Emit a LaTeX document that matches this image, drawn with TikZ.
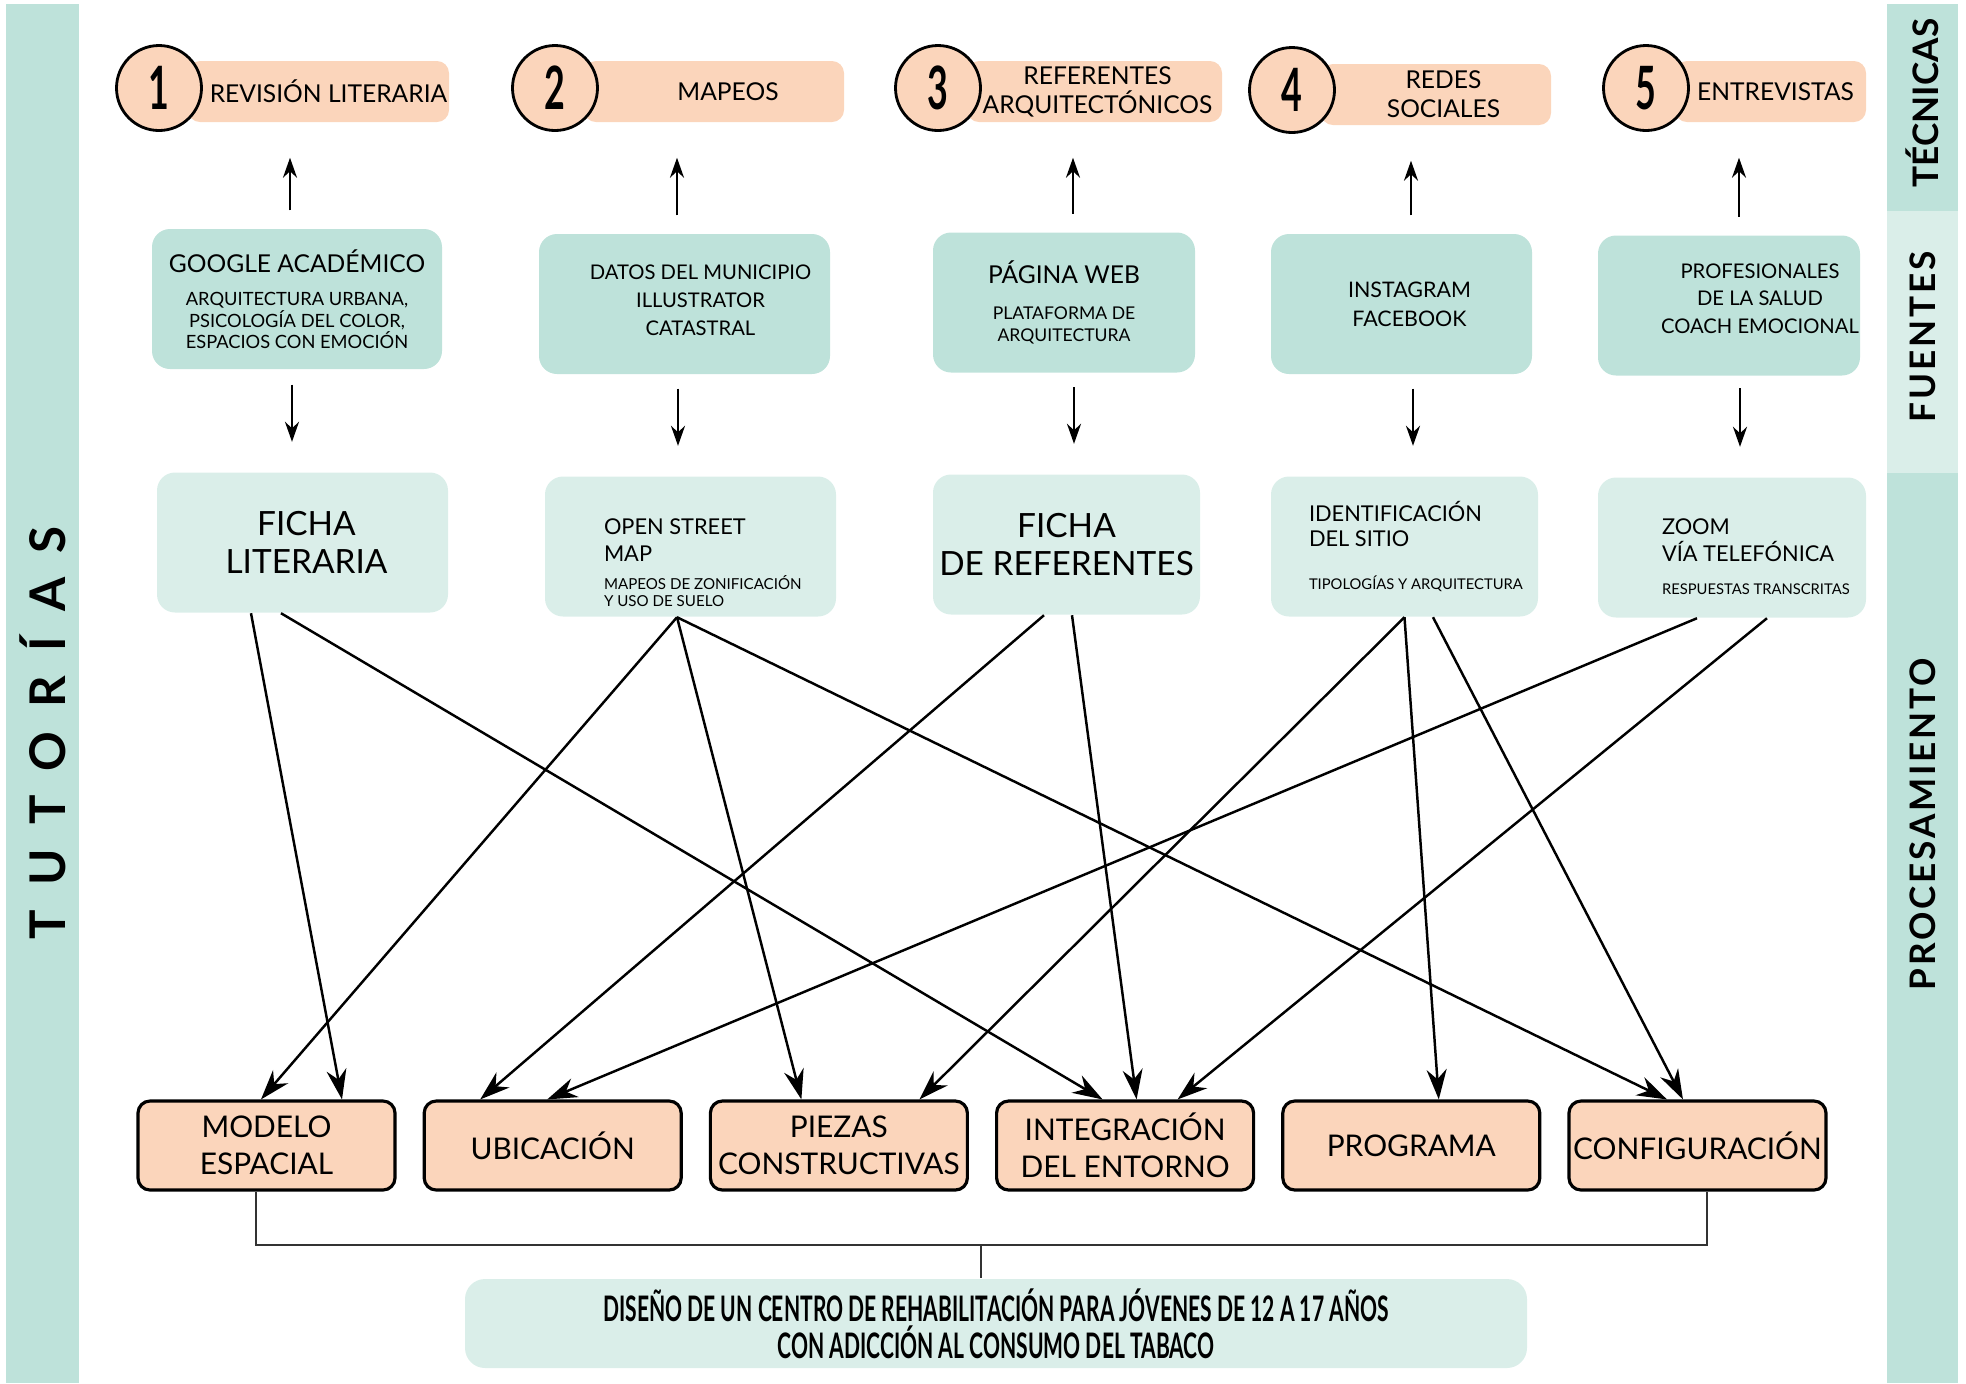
\documentclass[tikz,border=0pt]{standalone}
\usepackage{fontspec}
\setmainfont{Lato}
\newfontfamily\condfont[FakeStretch=0.6]{Lato}
\newfontfamily\sidefont[LetterSpace=8]{Lato}
\newfontfamily\tutfont[LetterSpace=50]{Lato}
\usetikzlibrary{arrows.meta}
\definecolor{tealdark}{HTML}{BEE2DA}
\definecolor{teallight}{HTML}{DAEEE9}
\definecolor{peach}{HTML}{FBD5BB}

\begin{document}
\begin{tikzpicture}[x=0.1mm,y=-0.1mm,node distance=28.62mm,
	headbox/.style={fill=peach,rounded corners=1.2mm,minimum height=6.1mm,inner sep=0pt,align=center,font=\fontsize{7}{8.2}\selectfont},
	numcircle/.style={circle,draw,line width=0.8pt,fill=peach,minimum size=8.5mm,inner sep=0pt,font=\condfont\bfseries\fontsize{17}{17}\selectfont},
	srcbox/.style={fill=tealdark,rounded corners=1.8mm,minimum height=14mm,inner sep=0pt,align=center},
	procbox/.style={fill=teallight,rounded corners=1.8mm,minimum height=14mm,inner sep=0pt},
	boxtext/.style={anchor=west,inner sep=0pt,align=left},
	resbox/.style={draw,line width=0.9pt,fill=peach,rounded corners=1.2mm,minimum width=25.7mm,minimum height=8.9mm,inner sep=0pt,align=center,font=\fontsize{8.5}{10.5}\selectfont},
	goalbox/.style={fill=teallight,rounded corners=2mm,minimum width=106.2mm,minimum height=8.9mm,inner sep=0pt,align=center,font=\condfont\bfseries\fontsize{10}{10.5}\selectfont},
	sidelabel/.style={rotate=90,font=\sidefont\bfseries\fontsize{10}{10}\selectfont},
	arr/.style={line width=0.75pt,-{Stealth[length=2mm,width=1.4mm]}},
	bigarr/.style={line width=0.7pt,-{Stealth[length=3mm,width=2mm]}},
	bracket/.style={line width=0.45pt,draw=black!80}]
	\useasboundingbox (0,0) rectangle (1966,1383);
	\fill[tealdark] (6,4) rectangle (79,1383);
	\fill[tealdark] (1887,4) rectangle (1958,211);
	\fill[teallight] (1887,211) rectangle (1958,473);
	\fill[tealdark] (1887,473) rectangle (1958,1383);
	\node[rotate=90,font=\tutfont\bfseries\fontsize{14}{14}\selectfont](tut) at (42.5,733){TUTORÍAS};
	\node[rotate=90,font=\bfseries\fontsize{10}{10}\selectfont](tecn) at (1922.5,103){TÉCNICAS};
	\node[sidelabel](fuen) at (1922.5,337){FUENTES};
	\node[sidelabel](proc) at (1922.5,824){PROCESAMIENTO};
	
	\node[headbox,minimum width=26.1mm](tec1) at (318.5,91.5){\hspace*{2mm}REVISIÓN LITERARIA};
	\node[headbox,minimum width=26mm](tec2) at (714,91.5){\hspace*{2.8mm}MAPEOS};
	\node[headbox,minimum width=25.5mm](tec3) at (1094.5,91.5){\hspace*{0.6mm}REFERENTES\\\hspace*{0.6mm}ARQUITECTÓNICOS};
	\node[headbox,minimum width=23mm](tec4) at (1436,94.5){\hspace*{1.5mm}REDES\\\hspace*{1.5mm}SOCIALES};
	\node[headbox,minimum width=19.1mm](tec5) at (1770.5,91.5){\hspace*{1mm}ENTREVISTAS};
	\node[numcircle](n1) at (159,88){1};
	\node[numcircle](n2) at (555,88){2};
	\node[numcircle](n3) at (938,88){3};
	\node[numcircle](n4) at (1292,90){4};
	\node[numcircle](n5) at (1646,88){5};
	
	\node[srcbox,minimum width=29mm,font=\fontsize{5.2}{6.1}\selectfont](src1) at (297,299){\fontsize{7}{8}\selectfont GOOGLE ACADÉMICO\\[3.4pt]ARQUITECTURA URBANA,\\PSICOLOGÍA DEL COLOR,\\ESPACIOS CON EMOCIÓN};
	\node[srcbox,minimum width=29.1mm](src2) at (684.5,304){};
	\node[align=center,inner sep=0pt,font=\fontsize{5.75}{8}\selectfont](src2txt) at ([xshift=1.6mm,yshift=0.4mm]src2.center){DATOS DEL MUNICIPIO\\ILLUSTRATOR\\CATASTRAL};
	\node[srcbox,minimum width=26.2mm,font=\fontsize{5}{6.3}\selectfont](src3) at (1064,302.5){\fontsize{7}{8}\selectfont PÁGINA WEB\\[3.8pt]PLATAFORMA DE\\ARQUITECTURA};
	\node[srcbox,minimum width=26.1mm,font=\fontsize{6.1}{8.2}\selectfont](src4) at (1401.5,304){\hspace*{1.6mm}INSTAGRAM\\\hspace*{1.6mm}FACEBOOK};
	\node[srcbox,minimum width=26.2mm](src5) at (1729,305.5){};
	\node[align=center,inner sep=0pt,font=\fontsize{5.75}{7.8}\selectfont](src5txt) at ([xshift=3.1mm,yshift=0.7mm]src5.center){PROFESIONALES\\DE LA SALUD\\COACH EMOCIONAL};
	
	\node[procbox,minimum width=29.1mm,align=center,font=\fontsize{9.5}{11}\selectfont](proc1) at (302.5,542.5){\hspace*{0.8mm}FICHA\\\hspace*{0.8mm}LITERARIA};
	\node[procbox,minimum width=29.1mm](proc2) at (690.5,546.5){};
	\node[procbox,minimum width=26.7mm,align=center,font=\fontsize{9.5}{11}\selectfont](proc3) at (1066.5,544.5){FICHA\\DE REFERENTES};
	\node[procbox,minimum width=26.7mm](proc4) at (1404.5,546.5){};
	\node[procbox,minimum width=26.8mm](proc5) at (1732,547.5){};
	\node[boxtext,font=\fontsize{4.3}{4.8}\selectfont](proc2txt) at ([xshift=5.9mm,yshift=-1.6mm]proc2.west){\fontsize{6.2}{7}\selectfont OPEN STREET\\[2.9pt]\fontsize{6.2}{7}\selectfont MAP\\[3.3pt]MAPEOS DE ZONIFICACIÓN\\Y USO DE SUELO};
	\node[boxtext,font=\fontsize{6.2}{7.1}\selectfont](proc4txt) at ([xshift=3.8mm]proc4.west){IDENTIFICACIÓN\\DEL SITIO\\[5pt]\fontsize{4.2}{5}\selectfont TIPOLOGÍAS Y ARQUITECTURA};
	\node[boxtext,font=\fontsize{6.2}{7.7}\selectfont](proc5txt) at ([xshift=6.4mm,yshift=-0.9mm]proc5.west){ZOOM\\VÍA TELEFÓNICA\\[1.8pt]\fontsize{4.2}{5}\selectfont RESPUESTAS TRANSCRITAS};
	
	\node[resbox](res1) at (266.5,1145.5){MODELO\\ESPACIAL};
	\node[resbox,right of=res1](res2){UBICACIÓN};
	\node[resbox,right of=res2](res3){PIEZAS\\CONSTRUCTIVAS};
	\node[resbox,right of=res3](res4){INTEGRACIÓN\\DEL ENTORNO};
	\node[resbox,right of=res4](res5){PROGRAMA};
	\node[resbox,right of=res5](res6){CONFIGURACIÓN};
	
	\node[goalbox](goal) at (996,1323.5){DISEÑO DE UN CENTRO DE REHABILITACIÓN PARA JÓVENES DE 12 A 17 AÑOS\\CON ADICCIÓN AL CONSUMO DEL TABACO};
	\coordinate (join) at (981,1245);
	
	\draw[arr] ([xshift=-0.7mm,yshift=1.8mm]src1.north) -- ([xshift=-0.7mm,yshift=-3.5mm]src1.north |- tec1.south);
	\draw[arr] ([xshift=-0.75mm,yshift=1.8mm]src2.north) -- ([xshift=-0.75mm,yshift=-3.5mm]src2.north |- tec2.south);
	\draw[arr] ([xshift=0.9mm,yshift=1.8mm]src3.north) -- ([xshift=0.9mm,yshift=-3.5mm]src3.north |- tec3.south);
	\draw[arr] ([xshift=0.95mm,yshift=1.8mm]src4.north) -- ([xshift=0.95mm,yshift=-3.5mm]src4.north |- tec4.south);
	\draw[arr] ([xshift=1mm,yshift=1.8mm]src5.north) -- ([xshift=1mm,yshift=-3.5mm]src5.north |- tec5.south);
	
	\draw[arr] ([xshift=-0.5mm,yshift=-1.5mm]src1.south) -- ([xshift=-0.5mm,yshift=3mm]src1.south |- proc1.north);
	\draw[arr] ([xshift=-0.65mm,yshift=-1.4mm]src2.south) -- ([xshift=-0.65mm,yshift=3mm]src2.south |- proc2.north);
	\draw[arr] ([xshift=1mm,yshift=-1.4mm]src3.south) -- ([xshift=1mm,yshift=3mm]src3.south |- proc3.north);
	\draw[arr] ([xshift=1.15mm,yshift=-1.4mm]src4.south) -- ([xshift=1.15mm,yshift=3mm]src4.south |- proc4.north);
	\draw[arr] ([xshift=1.1mm,yshift=-1.2mm]src5.south) -- ([xshift=1.1mm,yshift=3mm]src5.south |- proc5.north);
	
	\path[bigarr]
	([xshift=-5.15mm]proc1.south) edge ([xshift=7.55mm]res1.north)
	([xshift=-2.15mm]proc1.south) edge ([xshift=-2.25mm]res4.north)
	([xshift=-1.35mm]proc2.south) edge ([xshift=-0.55mm]res1.north)
	([xshift=-1.35mm]proc2.south) edge ([xshift=-3.75mm]res3.north)
	([xshift=-1.35mm]proc2.south) edge ([xshift=-3.05mm]res6.north)
	([xshift=-2.25mm]proc3.south) edge ([xshift=-7.25mm]res2.north)
	([xshift=0.55mm]proc3.south) edge ([xshift=1.15mm]res4.north)
	(proc4.south) edge ([xshift=8.05mm]res3.north)
	(proc4.south) edge ([xshift=2.75mm]res5.north)
	([xshift=2.85mm]proc4.south) edge ([xshift=-1.45mm]res6.north)
	([xshift=-3.5mm]proc5.south) edge ([xshift=-0.55mm]res2.north)
	([xshift=3.5mm]proc5.south) edge ([xshift=5.25mm]res4.north);
	
	\draw[bracket] ([xshift=-1.05mm]res1.south) |- (join) -| ([xshift=0.95mm]res6.south);
	\draw[bracket] (join) -- (join |- goal.north);
\end{tikzpicture}
\end{document}
